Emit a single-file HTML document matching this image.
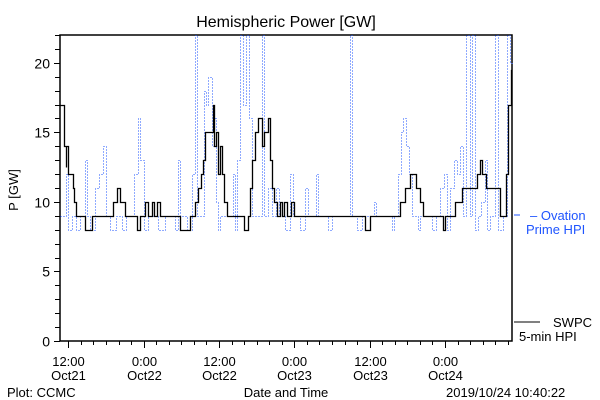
<!DOCTYPE html>
<html><head><meta charset="utf-8"><style>
body{margin:0;background:#fff;}
svg{display:block;font-family:"Liberation Sans",sans-serif;}
</style></head><body>
<svg id="chart" width="600" height="400" viewBox="0 0 600 400">
<rect width="600" height="400" fill="#fff"/>
<text x="286" y="27" font-size="16" text-anchor="middle">Hemispheric Power [GW]</text>
<g id="axes"></g>
<g id="series"></g>
<text transform="translate(18,190) rotate(-90)" font-size="13" text-anchor="middle">P [GW]</text>
<text x="286" y="397" font-size="13" text-anchor="middle">Date and Time</text>
<text x="7" y="397" font-size="13">Plot: CCMC</text>
<text x="446" y="397" font-size="13">2019/10/24 10:40:22</text>
<g fill="#1f55ff">
<line x1="514" y1="215" x2="520" y2="215" stroke="#1f55ff"/>
<text x="530" y="220" font-size="13">– Ovation</text>
<text x="526" y="234" font-size="13">Prime HPI</text>
</g>
<g>
<line x1="514" y1="322" x2="540" y2="322" stroke="#000"/>
<text x="553" y="327" font-size="13">SWPC</text>
<text x="519" y="341" font-size="13">5-min HPI</text>
</g>
</svg>
<script>
// hours since Oct21 10:40
const xTickLabels1=["12:00","0:00","12:00","0:00","12:00","0:00"];
const xTickLabels2=["Oct21","Oct22","Oct22","Oct23","Oct23","Oct24"];
const xTickHours=[1.33,13.33,25.33,37.33,49.33,61.33];
const yTicks=[0,5,10,15,20];
const swpcTimes=[0,0.6,0.9,1.0,1.3,2.1,2.3,2.5,4.0,5.1,8.4,9.0,9.6,10.4,12.3,12.7,13.6,14.0,14.6,15.0,15.4,15.9,19.1,20.7,21.5,22,22.4,22.8,23.1,24.4,24.6,24.8,25.1,25.5,25.8,26.1,26.6,29.3,29.9,30.3,30.6,31.0,31.5,32.2,32.5,33.1,33.4,33.8,34.1,34.5,35,35.3,35.7,36.1,36.8,37.3,48.6,49.4,54.2,55,55.7,56.7,57.3,57.8,61.0,61.4,62.9,64.0,66.4,66.9,67.3,67.8,70.1,71.0,71.4,71.8,72];
const swpcValues=[17,14,12.5,14,12,11,10,9,8,9,10,11,10,9,8,9,10,9,10,9,10,9,8,9,10,11,12,13,15,17,14,15,12,14,12,10,9,8,9,11,13,15,16,14,15,16,13,11,10,9,10,9,10,9,10,9,8,9,10,11,12,11,10,9,8,9,10,11,12,13,12,11,9,12,17,19.5,19.5];
const ovTimes=[0,1.0,1.3,1.9,2.5,3.2,4.0,4.3,4.8,5.6,6.2,6.8,7.3,8.0,8.9,9.9,10.5,11.8,12.4,12.7,13.4,14.0,15.6,16.7,18.3,18.8,19.1,20.2,21.0,21.5,21.8,22.9,23.2,23.6,24.2,24.5,24.8,25.2,25.5,27.5,27.9,28.2,28.7,29.1,29.6,30.1,30.6,32.2,32.5,33.1,33.8,34.4,34.9,35.8,36.6,37.1,38.2,39.0,39.5,40.8,41.1,42.7,43.3,46.2,46.5,47.3,48.1,50.0,50.3,52.9,53.2,53.8,54.3,54.6,55.1,55.6,56.1,57.0,57.3,59.2,59.9,60.5,61.1,61.6,62.1,62.7,63.2,63.7,64.2,64.6,65.3,65.6,66.1,66.6,67.1,67.7,68.0,68.5,69.3,69.7,70.5,71.2,71.7,72];
const ovValues=[9,12,8,9,8,9,13,9,8,11,12,14,9,8,9,8,9,12,16,13,8,9,8,9,8,13,9,8,12,22,9,18,17,19,14,16,10,8,9,12,8,13,22,17,22,16,9,22,9,11,9,11,9,8,12,9,8,11,9,12,9,8,9,22,9,8,9,10,9,8,9,12,15,16,14,12,9,8,9,8,9,11,12,8,11,13,12,14,9,22,9,22,8,9,10,13,8,9,22,8,9,22,20,20];

const L=60,R=512,T=35,B=341,YMAX=22,HMAX=72;
const xs=h=>Math.round(L+(R-L)*h/HMAX)+0.5;
const ys=v=>Math.round(Math.max(T,B-(B-T)*v/YMAX))+0.5;
const NS="http://www.w3.org/2000/svg";
const axes=document.getElementById('axes'),series=document.getElementById('series');
function mk(tag,attrs,parent){const e=document.createElementNS(NS,tag);for(const k in attrs)e.setAttribute(k,attrs[k]);parent.appendChild(e);return e;}

const frame=mk('rect',{x:L,y:T,width:R-L,height:B-T,fill:'none',stroke:'#000','stroke-width':1.5},axes);


for(let v=0;v<=YMAX;v++){
  const t=mk('line',{x1:L-(v%5===0?6:5),x2:L,y1:ys(v),y2:ys(v),stroke:'#000'},axes);
  
  
}
yTicks.forEach(v=>{
  const t=mk('text',{x:50,y:ys(v)+5,'font-size':14,'text-anchor':'end'},axes);
  t.textContent=v;
  
  
});
for(let h=xTickHours[0]%2;h<=HMAX;h+=2){
  const major=xTickHours.some(m=>Math.abs(m-h)<0.01);
  const t=mk('line',{x1:xs(h),x2:xs(h),y1:B,y2:B+(major?7:4),stroke:'#000'},axes);
  
  
}
xTickHours.forEach((h,i)=>{
  const t=mk('text',{x:xs(h),y:366,'font-size':13,'text-anchor':'middle'},axes);
  t.textContent=xTickLabels1[i];
  
  
  const d=mk('text',{x:xs(h),y:380,'font-size':13,'text-anchor':'middle'},axes);
  d.textContent=xTickLabels2[i];
  
  
});
function stepPath(ts,vs){let d='M'+xs(ts[0])+','+ys(vs[0]);for(let i=1;i<ts.length;i++){d+='H'+xs(ts[i])+'V'+ys(vs[i]);}return d;}
const ov=mk('path',{d:stepPath(ovTimes,ovValues),fill:'none',stroke:'#1f55ff','stroke-width':1,'stroke-dasharray':'1 2','shape-rendering':'crispEdges'},series);


const sw=mk('path',{d:stepPath(swpcTimes,swpcValues),fill:'none',stroke:'#000','stroke-width':1.3},series);


</script>
</body></html>
